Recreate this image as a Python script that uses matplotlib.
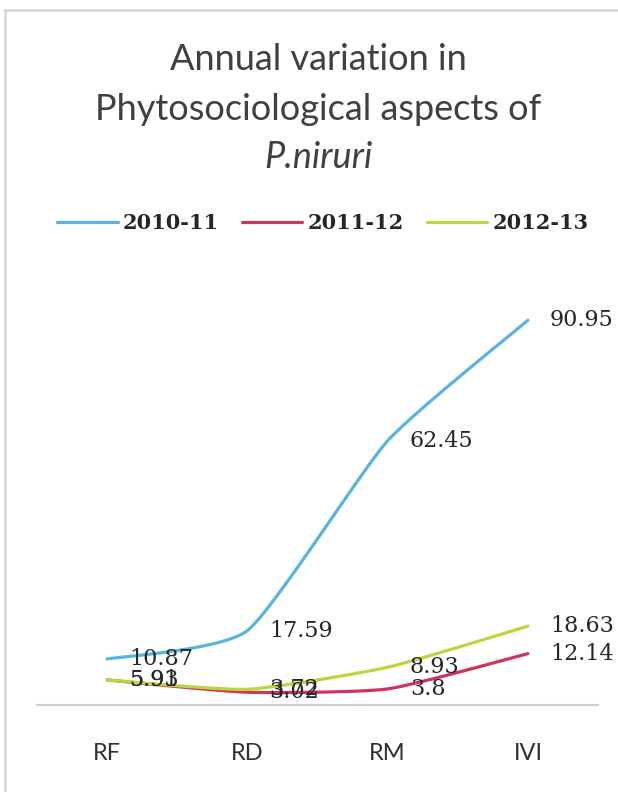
import numpy as np
import matplotlib
matplotlib.use("Agg")
import matplotlib.pyplot as plt
from matplotlib.lines import Line2D

categories = ["RF", "RD", "RM", "IVI"]
series_names = ["2010-11", "2011-12", "2012-13"]
s2010 = [10.87, 17.59, 62.45, 90.95]
s2011 = [5.93, 3.02, 3.8, 12.14]
s2012 = [5.91, 3.72, 8.93, 18.63]
colors = ["#5ab4e0", "#d2335c", "#b8d83c"]

W, H = 618, 792
fig = plt.figure(figsize=(W / 100, H / 100), dpi=100)
fig.patch.set_facecolor("white")

# plot area in pixels
x0, x1 = 37, 598
y_zero, y_top = 705, 282
ax = fig.add_axes([x0 / W, (H - y_zero) / H, (x1 - x0) / W, (y_zero - y_top) / H])
ax.set_xlim(-0.5, 3.5)
ax.set_ylim(0, 100)
ax.set_facecolor("none")
for s in ["top", "right", "left"]:
    ax.spines[s].set_visible(False)
ax.spines["bottom"].set_color("#d0d0d0")
ax.spines["bottom"].set_linewidth(1.5)
ax.set_yticks([])
ax.set_xticks(range(len(categories)))
ax.set_xticklabels(categories, fontsize=17, family="Lato", color="#303030")
ax.tick_params(axis="x", length=0, pad=27)


def smooth(xs, ys, k=0.09, n=40):
    xs = np.asarray(xs, float)
    ys = np.asarray(ys, float)
    px = np.concatenate([[xs[0]], xs, [xs[-1]]])
    py = np.concatenate([[ys[0]], ys, [ys[-1]]])
    outx, outy = [], []
    for i in range(1, len(px) - 2):
        p0 = np.array([px[i - 1], py[i - 1]])
        p1 = np.array([px[i], py[i]])
        p2 = np.array([px[i + 1], py[i + 1]])
        p3 = np.array([px[i + 2], py[i + 2]])
        c1 = p1 + (p2 - p0) * k
        c2 = p2 - (p3 - p1) * k
        t = np.linspace(0, 1, n)[:, None]
        b = ((1 - t) ** 3) * p1 + 3 * ((1 - t) ** 2) * t * c1 + 3 * (1 - t) * t ** 2 * c2 + t ** 3 * p2
        outx.extend(b[:, 0])
        outy.extend(b[:, 1])
    return outx, outy


xs = np.arange(len(categories))
all_series = [s2010, s2011, s2012]
handles = []
for name, vals, col in zip(series_names, all_series, colors):
    sx, sy = smooth(xs, vals)
    ln, = ax.plot(sx, sy, color=col, lw=2.3, solid_capstyle="round", label=name, clip_on=False)
    handles.append(ln)

# data labels (drawn after lines)
for vals in all_series:
    for x, v in zip(xs, vals):
        ax.annotate(f"{v:g}", (x, v), xytext=(16, 0), textcoords="offset points",
                    ha="left", va="center", fontsize=16, family="DejaVu Serif",
                    color="#262626", annotation_clip=False)

# title
title_lines = ["Annual variation in", "Phytosociological aspects of"]
fig.text(318 / W, 1 - 60 / H, title_lines[0], ha="center", va="center",
         fontsize=26, family="Lato", color="#404040")
fig.text(318 / W, 1 - 110 / H, title_lines[1], ha="center", va="center",
         fontsize=26, family="Lato", color="#404040")
fig.text(318 / W, 1 - 158 / H, "P.niruri", ha="center", va="center",
         fontsize=26, family="Lato", style="italic", color="#404040")

# legend
leg = fig.legend(handles=handles, labels=series_names, loc="center",
                 bbox_to_anchor=(323 / W, 1 - 223 / H), ncol=3, frameon=False,
                 prop={"family": "DejaVu Serif", "weight": "bold", "size": 15},
                 handlelength=2.9, handletextpad=0.25, columnspacing=1.1)
for t in leg.get_texts():
    t.set_color("#262626")

# chart border (light grey)
fig.add_artist(Line2D([5 / W, 1], [1 - 10 / H, 1 - 10 / H], color="#d3dada", lw=2,
                      transform=fig.transFigure))
fig.add_artist(Line2D([5 / W, 5 / W], [0, 1 - 10 / H], color="#d3dada", lw=2,
                      transform=fig.transFigure))

fig.savefig("out.png", dpi=100, facecolor="white")
